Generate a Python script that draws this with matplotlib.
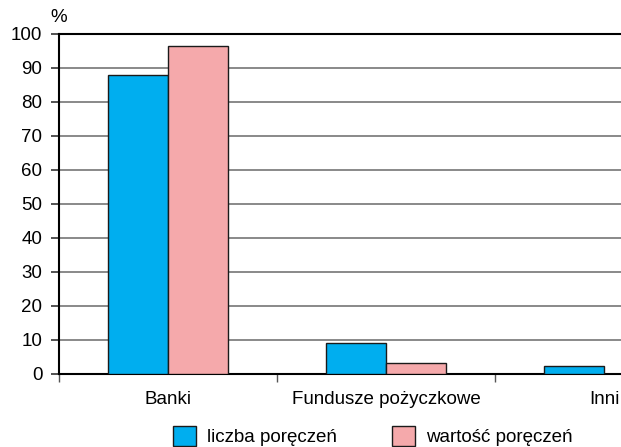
import matplotlib
matplotlib.use("Agg")
import matplotlib.pyplot as plt
from matplotlib.patches import Patch
import numpy as np

plt.rcParams['font.family'] = ['Liberation Sans', 'DejaVu Sans']

categories = ["Banki", "Fundusze pożyczkowe", "Inni"]
liczba = [88.0, 9.1, 2.5]
wartosc = [96.4, 3.2, 0.0]
series_names = ["liczba poręczeń", "wartość poręczeń"]
yticks = [0, 10, 20, 30, 40, 50, 60, 70, 80, 90, 100]

blue = "#00AEEF"
pink = "#F5A9AB"
edge = "#1a1a1a"
grid = "#808080"
fs = 13.5

W, H = 621, 447
fig = plt.figure(figsize=(W / 100, H / 100), dpi=100)
# the category axis runs on past the right edge of the figure
ax = fig.add_axes([59 / W, (H - 374) / H, 654 / W, 340 / H])

x = np.arange(len(categories))
bw = 0.275
ax.bar(x - bw / 2, liczba, bw, color=blue, edgecolor=edge, linewidth=1.0, zorder=3)
ax.bar(x + bw / 2, wartosc, bw, color=pink, edgecolor=edge, linewidth=1.0, zorder=3)

ax.set_xlim(-0.5, len(categories) - 0.5)
ax.set_ylim(0, 100)
ax.set_yticks(yticks)
ax.set_yticklabels([str(v) for v in yticks], fontsize=fs)
ax.yaxis.grid(True, color=grid, linewidth=1.3, zorder=0)
ax.set_axisbelow(True)
ax.tick_params(axis='y', length=6, width=1.2, color="#333333", pad=6)

# boundary ticks between categories, labels centred on each group
ax.set_xticks(np.arange(len(categories) + 1) - 0.5)
ax.set_xticklabels([])
ax.tick_params(axis='x', which='major', length=5.5, width=1.0, color="#555555")
ax.set_xticks(x, minor=True)
ax.set_xticklabels(categories, minor=True, fontsize=fs)
ax.tick_params(axis='x', which='minor', length=0, pad=12)

for s in ['left', 'bottom', 'top']:
    ax.spines[s].set_color("black")
    ax.spines[s].set_linewidth(1.5)
ax.spines['right'].set_visible(False)

ax.text(0, 1.048, "%", transform=ax.transAxes, ha='center', va='center', fontsize=fs)

handles = [Patch(facecolor=blue, edgecolor=edge, linewidth=1.0),
           Patch(facecolor=pink, edgecolor=edge, linewidth=1.0)]
fig.legend(handles, series_names, loc='center', bbox_to_anchor=(373 / W, (H - 436) / H),
           ncol=2, frameon=False, fontsize=fs, handlelength=1.23, handleheight=1.23,
           handletextpad=0.59, columnspacing=2.93, borderpad=0, borderaxespad=0)

fig.savefig("out.png", dpi=100)
